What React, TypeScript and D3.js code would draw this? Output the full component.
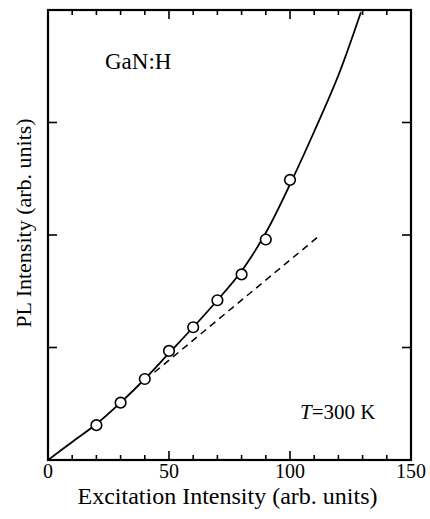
import React from "react";
import * as d3 from "d3";

// measured PL points (excitation, PL intensity in arb. units)
const excitation = [20, 30, 40, 50, 60, 70, 80, 90, 100];
const plIntensity = [0.31, 0.51, 0.72, 0.97, 1.18, 1.42, 1.65, 1.96, 2.49];

// solid fit curve
const fitX = [0, 10, 20, 30, 40, 50, 60, 70, 80, 90, 100, 110, 120, 129.3];
const fitY = [0, 0.16, 0.32, 0.51, 0.72, 0.95, 1.18, 1.42, 1.68, 2.02, 2.45, 2.92, 3.42, 3.98];

// dashed linear guide
const linX = [44, 112.5];
const linY = [0.78, 2.0];

const xTickLabels = [0, 50, 100, 150];
const xMinorTicks = d3.range(0, 151, 10);
const yTicks = [1, 2, 3];

const width = 430;
const height = 519;
const left = 48;
const right = 411;
const top = 10;
const bottom = 460;
const font = "'Liberation Serif', 'Times New Roman', serif";

export default function App() {
  const x = d3.scaleLinear().domain([0, 150]).range([left, right]);
  const y = d3.scaleLinear().domain([0, 4]).range([bottom, top]);

  const line = d3
    .line<[number, number]>()
    .x((d) => x(d[0]))
    .y((d) => y(d[1]));

  const fitPath = line.curve(d3.curveCatmullRom)(
    fitX.map((v, i) => [v, fitY[i]] as [number, number])
  );
  const linPath = d3
    .line<[number, number]>()
    .x((d) => x(d[0]))
    .y((d) => y(d[1]))(linX.map((v, i) => [v, linY[i]] as [number, number]));

  return (
    <svg
      width={width}
      height={height}
      style={{ position: "absolute", left: 0, top: 0, background: "white" }}
    >
      <defs>
        <clipPath id="plot">
          <rect x={left} y={top} width={right - left} height={bottom - top} />
        </clipPath>
      </defs>

      {/* ticks */}
      {xMinorTicks.map((t) => {
        const len = t % 50 === 0 ? 9 : 5;
        return (
          <g key={"xt" + t} stroke="#000" strokeWidth={1.6}>
            <line x1={x(t)} x2={x(t)} y1={bottom} y2={bottom - len} />
            <line x1={x(t)} x2={x(t)} y1={top} y2={top + len} />
          </g>
        );
      })}
      {yTicks.map((t) => (
        <g key={"yt" + t} stroke="#000" strokeWidth={1.6}>
          <line x1={left} x2={left + 9} y1={y(t)} y2={y(t)} />
          <line x1={right} x2={right - 9} y1={y(t)} y2={y(t)} />
        </g>
      ))}

      <rect
        x={left}
        y={top}
        width={right - left}
        height={bottom - top}
        fill="none"
        stroke="#000"
        strokeWidth={2.2}
      />

      <g clipPath="url(#plot)">
        <path d={linPath || ""} fill="none" stroke="#000" strokeWidth={1.5} strokeDasharray="7,5" />
        <path d={fitPath || ""} fill="none" stroke="#000" strokeWidth={1.8} />
      </g>

      {excitation.map((v, i) => (
        <circle
          key={"p" + v}
          cx={x(v)}
          cy={y(plIntensity[i])}
          r={5.3}
          fill="white"
          stroke="#000"
          strokeWidth={1.6}
        />
      ))}

      {xTickLabels.map((t) => (
        <text
          key={"xl" + t}
          x={x(t)}
          y={478}
          textAnchor="middle"
          fontFamily={font}
          fontSize={20}
        >
          {t}
        </text>
      ))}

      <text x={(left + right) / 2 - 2} y={504} textAnchor="middle" fontFamily={font} fontSize={24}>
        Excitation Intensity (arb. units)
      </text>
      <text
        transform={`translate(31,${223}) rotate(-90)`}
        textAnchor="middle"
        fontFamily={font}
        fontSize={22}
      >
        PL Intensity (arb. units)
      </text>

      <text x={105} y={69} fontFamily={font} fontSize={23}>
        GaN:H
      </text>
      <text x={300} y={419} fontFamily={font} fontSize={21}>
        <tspan fontStyle="italic">T</tspan>=300 K
      </text>
    </svg>
  );
}
